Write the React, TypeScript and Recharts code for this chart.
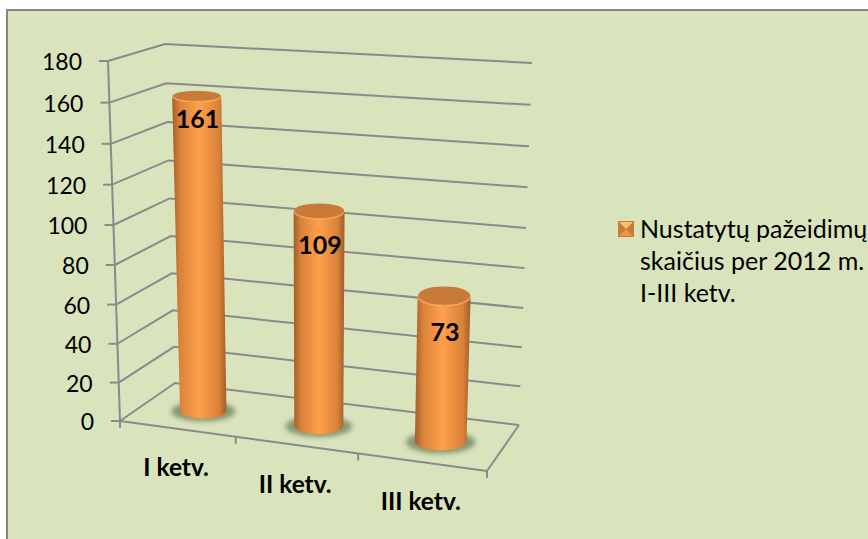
import React from 'react';
import { BarChart, Bar, XAxis, YAxis, CartesianGrid, Legend, LabelList } from 'recharts';

const categories = ['I ketv.', 'II ketv.', 'III ketv.'];
const values = [161, 109, 73];
const yTicks = [0, 20, 40, 60, 80, 100, 120, 140, 160, 180];
const legendLines = ['Nustatytų pažeidimų', 'skaičius per 2012 m.', 'I-III ketv.'];
const seriesName = legendLines.join(' ');
const labelDrop = [24, 35, 37];

const tableData = categories.map((name, i) => ({ name, value: values[i] }));

// flat plot rectangle, warped afterwards into the 3D box of the original
const PLOT = { left: 100, top: 60, width: 400, height: 400 };
const FONT = 'Lato, sans-serif';
const GRAY = '#8a8a8c';
const BAR_DEPTH = 0.47;
const BAR_DEPTH_SIZE = 0.42;
const BAR_SHIFT = 2;

const box = {
  flb: [120, 421], flt: [108, 61],
  blb: [175, 383], blt: [165, 44],
  brb: [519, 425], brt: [532, 63],
  frb: [487, 471], frt: [500, 85],
};

const lerp = (a: number, b: number, k: number) => a + (b - a) * k;
const lerp2 = (a: number[], b: number[], k: number) => [lerp(a[0], b[0], k), lerp(a[1], b[1], k)];

function warp(u: number, d: number, t: number) {
  const w = 0.956;
  const tp = (t * w) / (1 - t + t * w);
  const up = u - 0.08 * u * (1 - u);
  const fl = lerp2(box.flb, box.flt, tp);
  const bl = lerp2(box.blb, box.blt, tp);
  const br = lerp2(box.brb, box.brt, tp);
  const fr = lerp2(box.frb, box.frt, tp);
  return lerp2(lerp2(fl, fr, up), lerp2(bl, br, up), d);
}

const toU = (x: number) => (x - PLOT.left) / PLOT.width;
const toT = (y: number) => (PLOT.top + PLOT.height - y) / PLOT.height;

function line(a: number[], b: number[], key?: string) {
  return <line key={key} x1={a[0]} y1={a[1]} x2={b[0]} y2={b[1]} stroke={GRAY} strokeWidth={2} />;
}

function GridLine(props: any) {
  const t = toT(props.y1);
  const a = warp(0, 0, t);
  const b = warp(0, 1, t);
  const c = warp(1, 1, t);
  return (
    <polyline
      key={props.key}
      points={`${a[0]},${a[1]} ${b[0]},${b[1]} ${c[0]},${c[1]}`}
      fill="none"
      stroke={GRAY}
      strokeWidth={2}
    />
  );
}

function Frame() {
  return (
    <g>
      <defs>
        <linearGradient id="cyl" x1="0" y1="0" x2="1" y2="0">
          <stop offset="0%" stopColor="#a25c2a" />
          <stop offset="14%" stopColor="#d98238" />
          <stop offset="50%" stopColor="#ffa04c" />
          <stop offset="86%" stopColor="#d98238" />
          <stop offset="100%" stopColor="#a25c2a" />
        </linearGradient>
        <filter id="soft" x="-30%" y="-60%" width="160%" height="220%">
          <feGaussianBlur stdDeviation="2.5" />
        </filter>
      </defs>
      {line(warp(0, 0, 0), warp(0, 0, 1))}
      {line(warp(0, 0, 0), warp(1, 0, 0))}
      {line(warp(1, 0, 0), warp(1, 1, 0))}
    </g>
  );
}

function Cylinder(props: any) {
  const { x, y, width, height } = props;
  const uL = toU(x);
  const uR = toU(x + width);
  const uC = (uL + uR) / 2;
  const tTop = toT(y);
  const tBase = toT(y + height);

  const ry = (t: number) => {
    const front = warp(uC, BAR_DEPTH - BAR_DEPTH_SIZE / 2, t);
    const back = warp(uC, BAR_DEPTH + BAR_DEPTH_SIZE / 2, t);
    return Math.abs(front[1] - back[1]) / 2;
  };
  const tl = warp(uL, BAR_DEPTH, tTop);
  const tr = warp(uR, BAR_DEPTH, tTop);
  const bl = warp(uL, BAR_DEPTH, tBase);
  const br = warp(uR, BAR_DEPTH, tBase);
  const rxTop = (tr[0] - tl[0]) / 2;
  const rxBase = (br[0] - bl[0]) / 2;
  const ryTop = ry(tTop) * 1.3;
  const ryBase = ry(tBase);
  const topY = (tl[1] + tr[1]) / 2 + 1.5;
  const baseY = (bl[1] + br[1]) / 2;
  const topX = (tl[0] + tr[0]) / 2 + BAR_SHIFT;
  const baseX = (bl[0] + br[0]) / 2 + BAR_SHIFT;

  const body = `M${topX - rxTop},${topY} L${baseX - rxBase},${baseY} A${rxBase},${ryBase} 0 0 0 ${baseX + rxBase},${baseY} L${topX + rxTop},${topY} A${rxTop},${ryTop} 0 0 1 ${topX - rxTop},${topY} Z`;

  return (
    <g>
      <ellipse cx={baseX} cy={baseY + 1} rx={rxBase + 9} ry={ryBase + 2} fill="#75845f" opacity={0.8} filter="url(#soft)" />
      <path d={body} fill="url(#cyl)" />
      <ellipse cx={topX} cy={topY} rx={rxTop} ry={ryTop} fill="#f4a050" />
      <ellipse cx={topX} cy={topY - 0.9} rx={rxTop - 0.5} ry={ryTop - 0.5} fill="#c87a38" />
    </g>
  );
}

function ValueLabel(props: any) {
  const { x, y, width, value, index } = props;
  const p = warp(toU(x + width / 2), BAR_DEPTH, toT(y));
  return (
    <text x={p[0] + BAR_SHIFT + 1} y={p[1] + labelDrop[index]} dy="0.35em" textAnchor="middle" fontFamily={FONT} fontWeight={700} fontSize={25} fill="#000">
      {value}
    </text>
  );
}

function YTick(props: any) {
  const { y, payload } = props;
  const p = warp(0, 0, toT(y));
  return (
    <g>
      {line([p[0] - 9, p[1]], p)}
      <text x={p[0] - 26} y={p[1] + 1} dy="0.35em" textAnchor="end" fontFamily={FONT} fontSize={23} fill="#000">
        {payload.value}
      </text>
    </g>
  );
}

function XTick(props: any) {
  const { x, payload, index } = props;
  const band = PLOT.width / categories.length;
  const u = toU(x);
  const p = warp(u, 0, 0);
  const edge = warp(toU(x + band / 2), 0, 0);
  return (
    <g>
      {index === 0 && line(warp(0, 0, 0), [box.flb[0], box.flb[1] + 7])}
      {line(edge, [edge[0], edge[1] + 7])}
      <text x={p[0] - 1} y={p[1] + 39} dy="0.35em" textAnchor="middle" fontFamily={FONT} fontWeight={700} fontSize={24.5} fill="#000">
        {payload.value}
      </text>
    </g>
  );
}

function LegendBox() {
  return (
    <div style={{ fontFamily: FONT, fontSize: 25, lineHeight: '32px', color: '#000', whiteSpace: 'nowrap', position: 'relative' }}>
      <svg width={16} height={16} style={{ position: 'absolute', left: -22, top: 9 }}>
        <rect width={16} height={16} fill="#c87a3a" />
        <polygon points="1,1 15,1 8,8" fill="#ffc066" />
        <polygon points="1,15 15,15 8,8" fill="#ee9444" />
      </svg>
      {legendLines.map((l) => (
        <div key={l}>{l}</div>
      ))}
    </div>
  );
}

export default function App() {
  return (
    <div style={{ position: 'absolute', left: 0, top: 0, width: 868, height: 539, overflow: 'hidden', background: '#fff' }}>
      <div style={{ position: 'absolute', left: 6, top: 9, width: 900, height: 600, background: '#d9e4bd', border: '2px solid #868686' }} />
      <div style={{ position: 'absolute', left: 0, top: 0 }}>
        <BarChart
          width={868}
          height={539}
          data={tableData}
          margin={{ top: PLOT.top, left: PLOT.left - 40, right: 868 - PLOT.left - PLOT.width, bottom: 539 - PLOT.top - PLOT.height - 30 }}
        >
          <CartesianGrid vertical={false} horizontal={GridLine} />
          <Frame />
          <XAxis dataKey="name" height={30} axisLine={false} tickLine={false} tick={XTick} interval={0} />
          <YAxis width={40} domain={[0, 180]} ticks={yTicks} axisLine={false} tickLine={false} tick={YTick} interval={0} />
          <Legend
            layout="horizontal"
            verticalAlign="middle"
            content={LegendBox}
            wrapperStyle={{ left: 640, top: 212, width: 240, bottom: 'auto' }}
          />
          <Bar dataKey="value" name={seriesName} fill="#f79646" barSize={55} shape={Cylinder} isAnimationActive={false}>
            <LabelList dataKey="value" content={ValueLabel} />
          </Bar>
        </BarChart>
      </div>
    </div>
  );
}
